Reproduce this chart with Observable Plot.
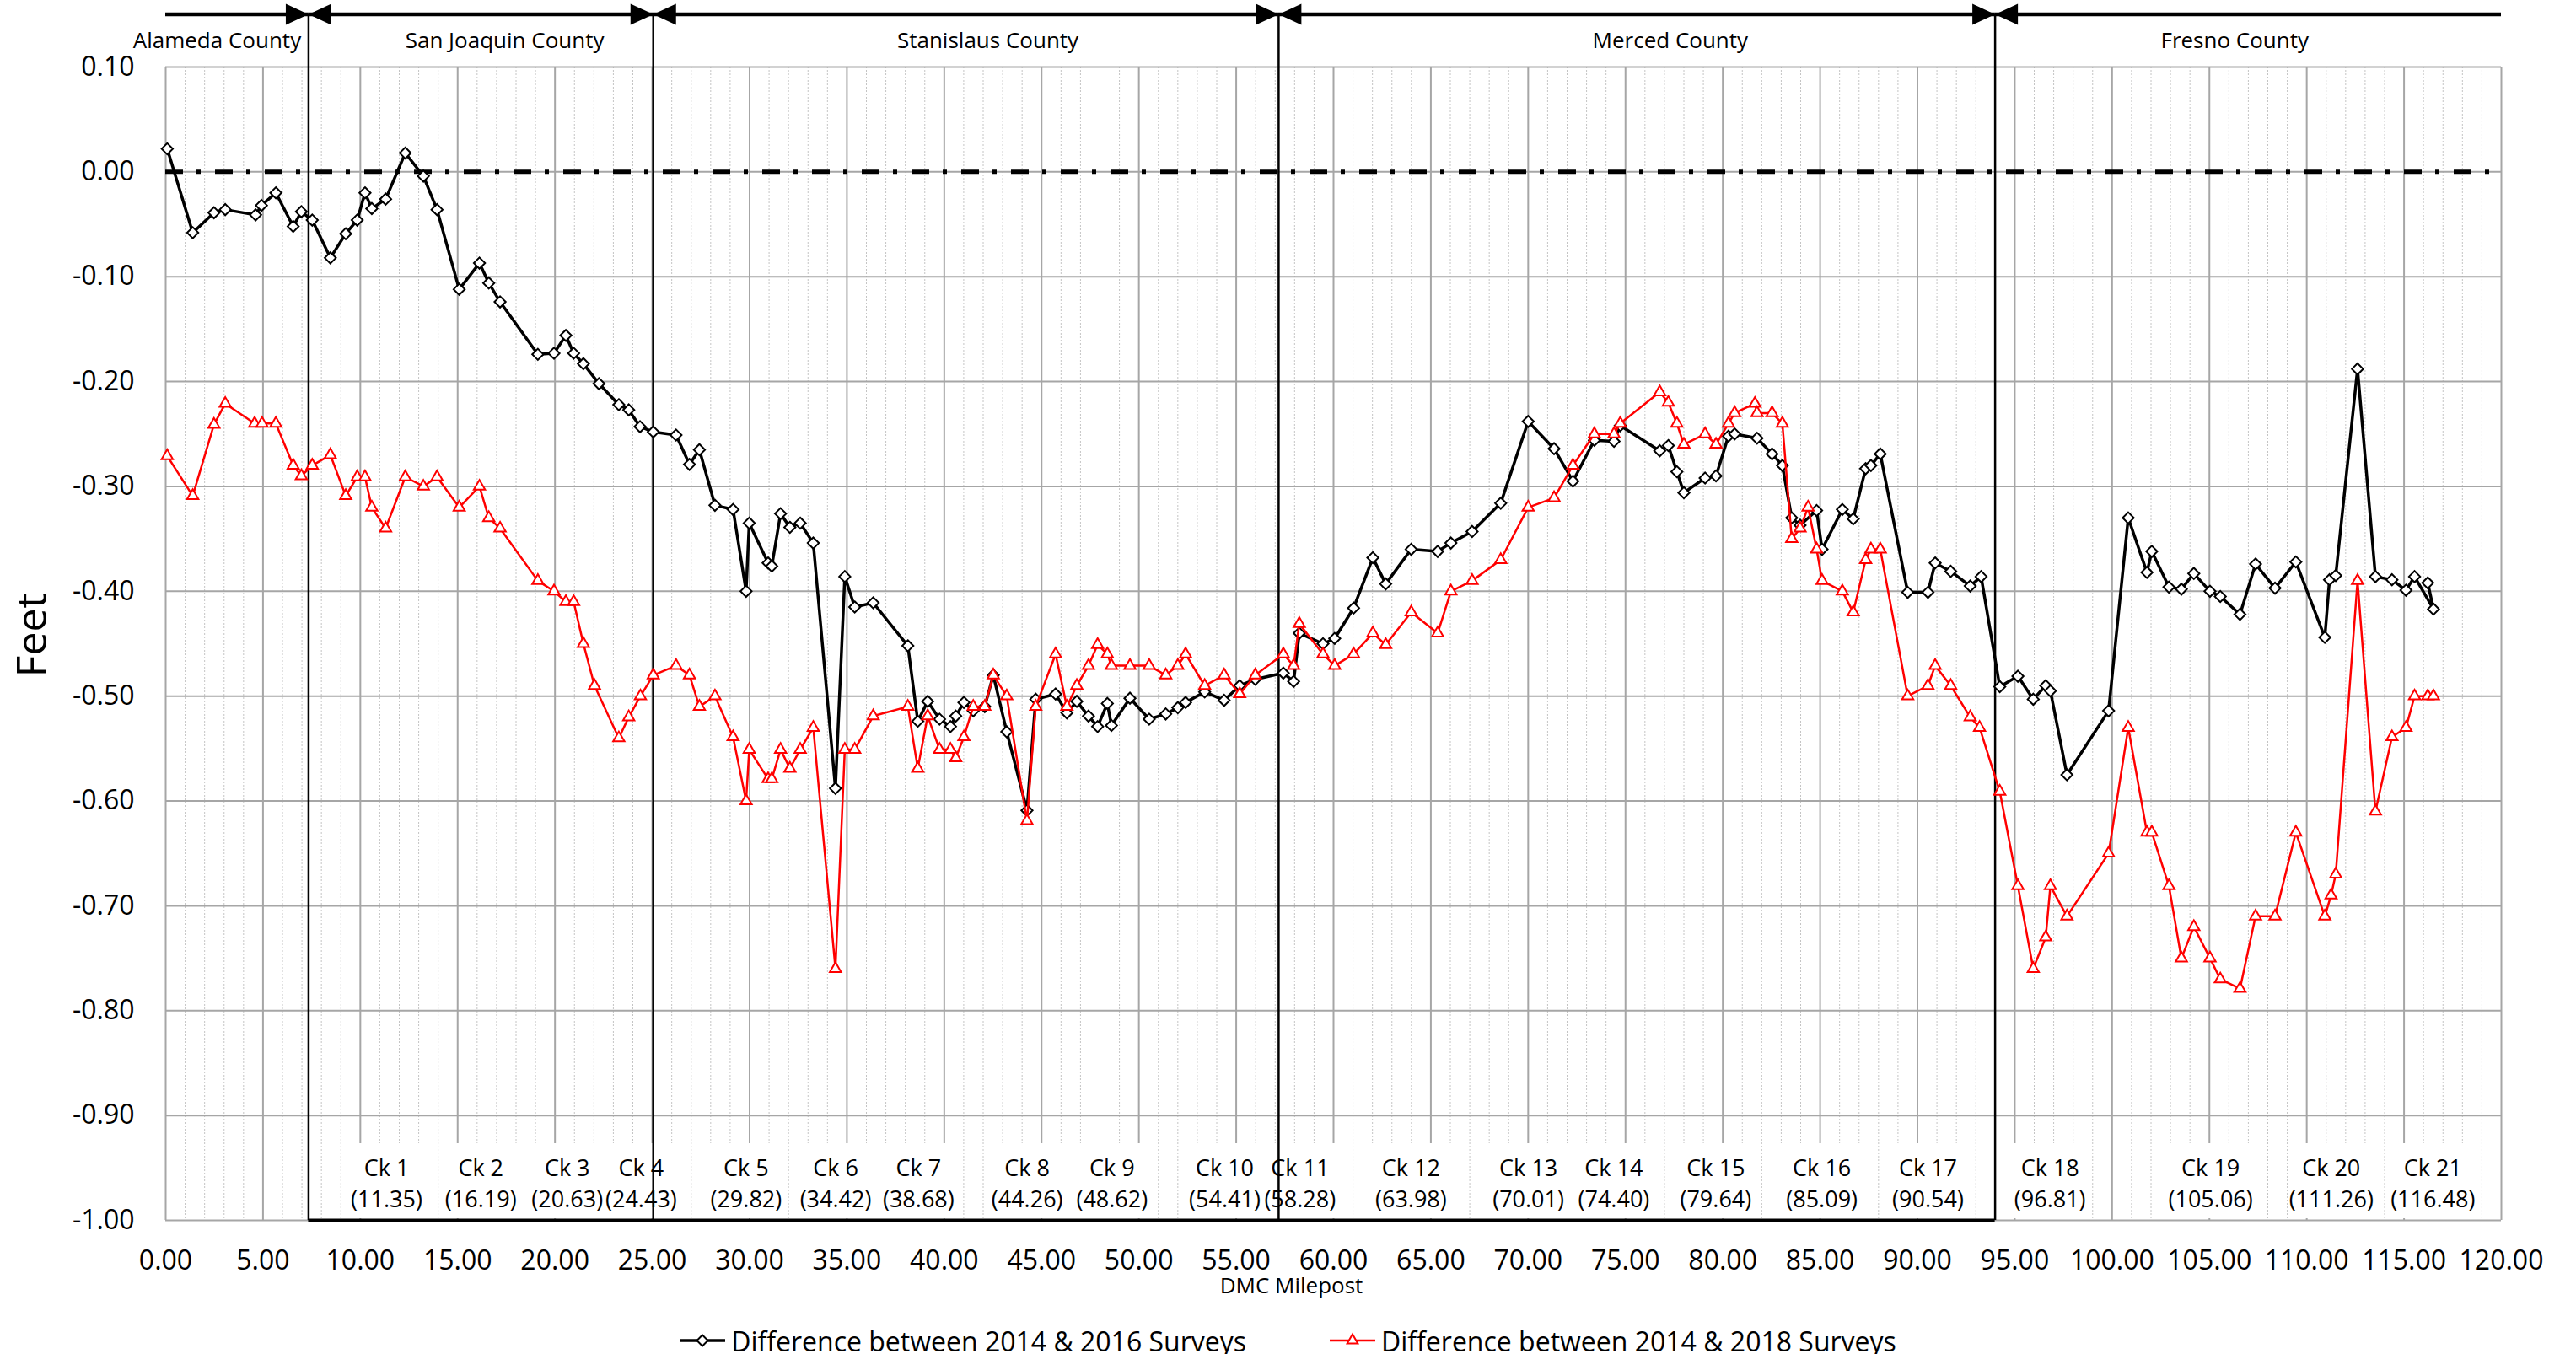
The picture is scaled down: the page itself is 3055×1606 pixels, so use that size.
<!DOCTYPE html>
<html>
<head>
<meta charset="utf-8">
<script src="https://cdn.jsdelivr.net/npm/d3@7"></script>
<script src="https://cdn.jsdelivr.net/npm/@observablehq/plot@0.6"></script>
<style>
  html, body { margin: 0; padding: 0; background: #fff; }
  #wrap { width: 3055px; background: #fff; font-family: 'Open Sans', sans-serif; }
  #legend { display: flex; justify-content: center; align-items: center; gap: 99px; height: 60px; font-size: 32px; color: #000; }
  #legend .item { display: flex; align-items: center; gap: 7px; white-space: nowrap; }
</style>
</head>
<body>
<div id="wrap">
  <div id="chart"></div>
  <div id="legend"></div>
</div>
<script>
// ---------------- data ----------------
const seriesNames = ["Difference between 2014 & 2016 Surveys", "Difference between 2014 & 2018 Surveys"];

const mile16 = [0.08,1.39,2.48,3.06,4.62,4.92,5.66,6.55,6.97,7.53,8.46,9.25,9.84,10.24,10.59,11.30,12.31,13.24,13.94,15.08,
  16.12,16.60,17.18,19.12,19.95,20.56,20.96,21.46,22.26,23.28,23.79,24.37,25.05,26.22,26.91,27.42,28.22,29.15,29.82,29.98,
  30.95,31.14,31.59,32.07,32.60,33.27,34.41,34.89,35.40,36.35,38.13,38.64,39.15,39.76,40.32,40.59,41.01,41.49,42.08,42.52,
  43.21,44.25,44.70,45.72,46.30,46.81,47.41,47.88,48.38,48.59,49.54,50.53,51.38,52.00,52.40,53.38,54.38,55.18,55.98,57.42,
  57.95,58.24,59.46,60.06,61.03,62.02,62.68,63.99,65.35,66.03,67.12,68.59,70.00,71.33,72.30,73.40,74.41,74.73,76.76,77.20,
  77.64,78.00,79.09,79.65,80.29,80.61,81.76,82.53,83.06,83.54,83.97,84.82,85.10,86.14,86.70,87.34,87.61,88.09,89.50,90.54,
  90.91,91.71,92.71,93.27,94.23,95.16,95.95,96.59,96.83,97.68,99.82,100.83,101.79,102.04,102.92,103.56,104.20,105.03,105.56,106.57,
  107.37,108.37,109.44,110.93,111.17,111.49,112.61,113.53,114.38,115.10,115.54,116.51,116.22];
const feet16 = [0.022,-0.058,-0.039,-0.036,-0.041,-0.032,-0.020,-0.052,-0.038,-0.046,-0.082,-0.059,-0.046,-0.020,-0.035,-0.026,0.018,-0.004,-0.036,-0.112,
  -0.087,-0.106,-0.124,-0.174,-0.173,-0.156,-0.173,-0.183,-0.202,-0.222,-0.227,-0.243,-0.248,-0.251,-0.279,-0.265,-0.318,-0.322,-0.400,-0.335,
  -0.373,-0.376,-0.326,-0.339,-0.335,-0.354,-0.588,-0.386,-0.415,-0.411,-0.452,-0.524,-0.505,-0.522,-0.529,-0.519,-0.506,-0.514,-0.510,-0.480,
  -0.534,-0.609,-0.503,-0.498,-0.516,-0.505,-0.519,-0.529,-0.507,-0.528,-0.502,-0.522,-0.517,-0.511,-0.506,-0.496,-0.504,-0.490,-0.484,-0.478,
  -0.486,-0.440,-0.450,-0.445,-0.416,-0.368,-0.393,-0.360,-0.362,-0.354,-0.343,-0.316,-0.238,-0.264,-0.295,-0.256,-0.257,-0.242,-0.266,-0.261,
  -0.286,-0.306,-0.292,-0.290,-0.252,-0.250,-0.254,-0.269,-0.280,-0.330,-0.337,-0.323,-0.360,-0.322,-0.331,-0.283,-0.280,-0.269,-0.401,-0.401,
  -0.373,-0.381,-0.395,-0.386,-0.491,-0.481,-0.503,-0.490,-0.495,-0.575,-0.514,-0.330,-0.382,-0.362,-0.396,-0.398,-0.383,-0.400,-0.405,-0.422,
  -0.374,-0.397,-0.372,-0.444,-0.389,-0.385,-0.188,-0.386,-0.389,-0.399,-0.386,-0.417,-0.392];

const mile18 = [0.08,1.39,2.48,3.06,4.57,4.95,5.66,6.55,6.97,7.53,8.46,9.25,9.84,10.24,10.59,11.30,12.31,13.24,13.94,15.08,
  16.12,16.60,17.18,19.12,19.95,20.56,20.96,21.46,22.03,23.28,23.79,24.39,25.05,26.22,26.91,27.42,28.22,29.15,29.82,29.98,
  30.95,31.14,31.59,32.07,32.60,33.27,34.41,34.89,35.40,36.35,38.13,38.64,39.15,39.76,40.32,40.59,41.01,41.49,42.08,42.52,
  43.21,44.25,44.70,45.72,46.30,46.81,47.41,47.88,48.38,48.59,49.54,50.53,51.38,52.00,52.40,53.38,54.38,55.18,55.98,57.42,
  57.95,58.24,59.46,60.06,61.03,62.02,62.68,63.99,65.35,66.03,67.12,68.59,70.00,71.33,72.30,73.40,74.41,74.73,76.76,77.20,
  77.64,78.00,79.09,79.65,80.29,80.61,81.65,81.76,82.53,83.06,83.54,83.97,84.38,84.82,85.10,86.14,86.70,87.34,87.61,88.09,
  89.50,90.54,90.91,91.71,92.71,93.19,94.23,95.16,95.95,96.59,96.83,97.68,99.82,100.83,101.79,102.04,102.92,103.56,104.20,105.03,
  105.56,106.57,107.37,108.37,109.44,110.93,111.25,111.49,112.61,113.53,114.38,115.10,115.54,116.22,116.51];
const feet18 = [-0.271,-0.309,-0.241,-0.221,-0.240,-0.240,-0.240,-0.280,-0.290,-0.280,-0.270,-0.309,-0.291,-0.291,-0.320,-0.340,-0.291,-0.300,-0.291,-0.320,
  -0.300,-0.330,-0.340,-0.390,-0.400,-0.410,-0.410,-0.450,-0.490,-0.540,-0.520,-0.500,-0.480,-0.471,-0.480,-0.510,-0.500,-0.539,-0.600,-0.551,
  -0.579,-0.579,-0.551,-0.569,-0.551,-0.530,-0.760,-0.551,-0.551,-0.519,-0.510,-0.569,-0.519,-0.551,-0.551,-0.559,-0.539,-0.510,-0.510,-0.480,
  -0.500,-0.619,-0.510,-0.460,-0.510,-0.490,-0.471,-0.451,-0.460,-0.471,-0.471,-0.471,-0.480,-0.471,-0.460,-0.490,-0.480,-0.498,-0.480,-0.460,
  -0.471,-0.431,-0.460,-0.471,-0.460,-0.440,-0.451,-0.420,-0.440,-0.400,-0.390,-0.370,-0.320,-0.311,-0.280,-0.250,-0.250,-0.240,-0.210,-0.220,
  -0.240,-0.260,-0.250,-0.260,-0.240,-0.230,-0.221,-0.230,-0.230,-0.240,-0.350,-0.340,-0.320,-0.360,-0.390,-0.400,-0.420,-0.370,-0.360,-0.360,
  -0.500,-0.490,-0.471,-0.490,-0.520,-0.530,-0.591,-0.681,-0.760,-0.730,-0.681,-0.710,-0.650,-0.530,-0.630,-0.630,-0.681,-0.750,-0.720,-0.750,
  -0.770,-0.779,-0.710,-0.710,-0.630,-0.710,-0.690,-0.670,-0.390,-0.610,-0.539,-0.530,-0.500,-0.500,-0.500];

const ckNames = ["Ck 1","Ck 2","Ck 3","Ck 4","Ck 5","Ck 6","Ck 7","Ck 8","Ck 9","Ck 10","Ck 11","Ck 12","Ck 13","Ck 14","Ck 15","Ck 16","Ck 17","Ck 18","Ck 19","Ck 20","Ck 21"];
const ckMiles = [11.35,16.19,20.63,24.43,29.82,34.42,38.68,44.26,48.62,54.41,58.28,63.98,70.01,74.40,79.64,85.09,90.54,96.81,105.06,111.26,116.48];

const countyNames = ["Alameda County","San Joaquin County","Stanislaus County","Merced County","Fresno County"];
const countyStart = [0, 7.34, 25.05, 57.18, 93.99];
const countyEnd   = [7.34, 25.05, 57.18, 93.99, 120];
const countyLabelMile = [2.64, 17.42, 42.24, 77.3, 106.3];

const xTicks = [0,5,10,15,20,25,30,35,40,45,50,55,60,65,70,75,80,85,90,95,100,105,110,115,120];
const yTicks = [0.1,0,-0.1,-0.2,-0.3,-0.4,-0.5,-0.6,-0.7,-0.8,-0.9,-1.0];
const xDomain = [0, 120];
const yDomain = [-1, 0.1];

// ---------------- tables ----------------
const s16 = mile16.map((m, i) => ({mile: m, feet: feet16[i]}));
const s18 = mile18.map((m, i) => ({mile: m, feet: feet18[i]}));
const checkpoints = ckNames.map((n, i) => ({name: n, mile: ckMiles[i]}));
const counties = countyNames.map((n, i) => ({name: n, start: countyStart[i], end: countyEnd[i], label: countyLabelMile[i]}));
const boundaries = countyStart.slice(1);
const minorTicks = d3.range(xDomain[0], xDomain[1] + 1).filter(v => !xTicks.includes(v));

// custom filled arrowhead symbols (tip at the anchor point)
const headRight = {draw(c, size) { const r = Math.sqrt(size / Math.PI); c.moveTo(0, 0); c.lineTo(-2 * r, -0.93 * r); c.lineTo(-2 * r, 0.93 * r); c.closePath(); }};
const headLeft  = {draw(c, size) { const r = Math.sqrt(size / Math.PI); c.moveTo(0, 0); c.lineTo(2 * r, -0.93 * r); c.lineTo(2 * r, 0.93 * r); c.closePath(); }};

const ARROW_DY = -62.5;
const gridColor = "#a6a6a6";

const chart = Plot.plot({
  width: 3055,
  height: 1560,
  marginTop: 79,
  marginBottom: 113,
  marginLeft: 196,
  marginRight: 89,
  style: {fontFamily: "'Open Sans', sans-serif", fontSize: "32px", background: "#fff", color: "#000"},
  x: {domain: xDomain, nice: false},
  y: {domain: yDomain, nice: false},
  marks: [
    // minor vertical grid
    Plot.ruleX(minorTicks, {stroke: "#c4c4c4", strokeWidth: 1, strokeDasharray: "2,2"}),
    // major grid
    Plot.ruleX(xTicks, {stroke: gridColor, strokeWidth: 2}),
    Plot.ruleY(yTicks, {stroke: gridColor, strokeWidth: 2}),
    // white label boxes behind checkpoint labels
    Plot.rect(checkpoints, {x1: "mile", x2: "mile", insetLeft: -49, insetRight: -49, insetTop: 1277, insetBottom: 2, fill: "#fff"}),
    // zero reference line (dash-dot)
    Plot.ruleY([0], {stroke: "#000", strokeWidth: 5, strokeDasharray: "21,16,5,17"}),
    // county boundaries
    Plot.ruleX(boundaries, {stroke: "#000", strokeWidth: 2.5, insetTop: ARROW_DY}),
    Plot.ruleY([yDomain[0]], {x1: d3.min(boundaries), x2: d3.max(boundaries), stroke: "#000", strokeWidth: 4}),
    // county arrows
    Plot.ruleY(counties, {x1: "start", x2: "end", y: () => yDomain[1], dy: ARROW_DY, stroke: "#000", strokeWidth: 4.5}),
    Plot.dot(counties.filter((d, i) => i < counties.length - 1), {x: "end", frameAnchor: "top", dy: ARROW_DY, symbol: headRight, r: 13.5, fill: "#000", stroke: "none"}),
    Plot.dot(counties.filter((d, i) => i > 0), {x: "start", frameAnchor: "top", dy: ARROW_DY, symbol: headLeft, r: 13.5, fill: "#000", stroke: "none"}),
    Plot.text(counties, {x: "label", text: "name", frameAnchor: "top", lineAnchor: "middle", dy: -31, fontSize: 26, fill: "#000"}),
    // checkpoint labels
    Plot.text(checkpoints, {x: "mile", text: d => `${d.name}\n(${d.mile.toFixed(2)})`, frameAnchor: "bottom", lineAnchor: "middle", dy: -46, lineHeight: 1.37, fontSize: 27, fill: "#000"}),
    // series
    Plot.line(s16, {x: "mile", y: "feet", stroke: "#000", strokeWidth: 3.5, curve: "linear"}),
    Plot.dot(s16, {x: "mile", y: "feet", symbol: "diamond2", r: 6, fill: "#fff", stroke: "#000", strokeWidth: 2}),
    Plot.line(s18, {x: "mile", y: "feet", stroke: "#ff0000", strokeWidth: 2.5, curve: "linear"}),
    Plot.dot(s18, {x: "mile", y: "feet", symbol: "triangle", r: 5, fill: "#fff", stroke: "#ff0000", strokeWidth: 2}),
    // axes
    Plot.axisX(xTicks, {tickSize: 0, tickPadding: 36, tickFormat: d => d.toFixed(2), label: null}),
    Plot.axisY(yTicks, {tickSize: 0, tickPadding: 37, tickFormat: d => d.toFixed(2), label: null}),
    Plot.text(["DMC Milepost"], {frameAnchor: "bottom", lineAnchor: "middle", dx: -50, dy: 78, fontSize: 26, fill: "#000"}),
    Plot.text(["Feet"], {frameAnchor: "left", dx: -158, dy: -10, rotate: -90, textAnchor: "middle", lineAnchor: "middle", fontSize: 50, fill: "#000"})
  ]
});
document.getElementById("chart").appendChild(chart);

// ---------------- legend ----------------
const legend = document.getElementById("legend");
const swatches = [
  `<svg width="54" height="30"><line x1="0" x2="54" y1="15" y2="15" stroke="#000" stroke-width="3.5"/><path d="M27,8.5L33.5,15L27,21.5L20.5,15Z" fill="#fff" stroke="#000" stroke-width="2"/></svg>`,
  `<svg width="54" height="30"><line x1="0" x2="54" y1="15" y2="15" stroke="#ff0000" stroke-width="2.5"/><path d="M27,7.5L33.3,18.5L20.7,18.5Z" fill="#fff" stroke="#ff0000" stroke-width="2"/></svg>`
];
seriesNames.forEach((name, i) => {
  const item = document.createElement("div");
  item.className = "item";
  item.innerHTML = swatches[i] + `<span>${name.replace(/&/g, "&amp;")}</span>`;
  legend.appendChild(item);
});
</script>
</body>
</html>
